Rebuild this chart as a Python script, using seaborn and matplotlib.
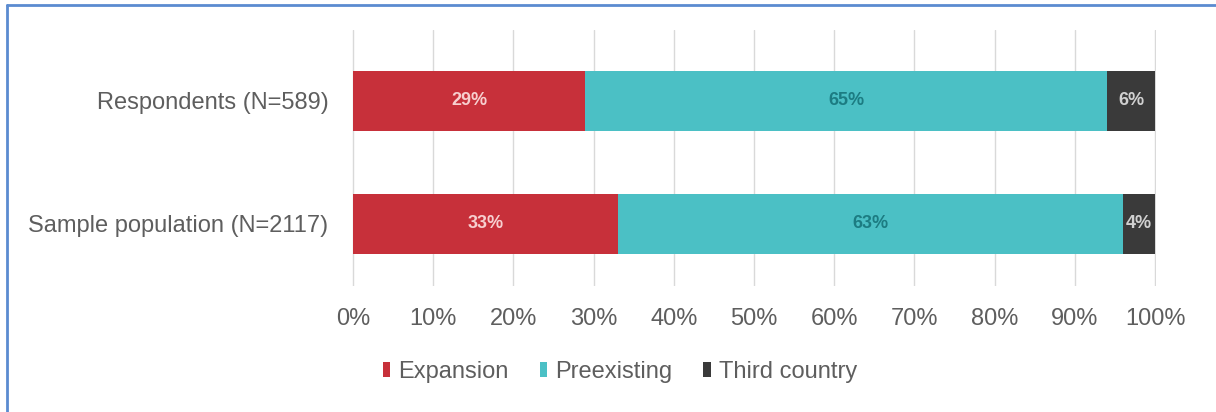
import matplotlib
matplotlib.use('Agg')
import matplotlib.pyplot as plt
from matplotlib.lines import Line2D
from matplotlib.patches import Patch
import numpy as np
import pandas as pd
import seaborn as sns

GROUPS = ['Respondents (N=589)', 'Sample population (N=2117)']
SEGMENTS = ['Expansion', 'Preexisting', 'Third country']
EXPANSION = [29, 33]
PREEXISTING = [65, 63]
THIRD_COUNTRY = [6, 4]

COLORS = {'Expansion': '#C7303A', 'Preexisting': '#4BC0C5', 'Third country': '#3A3A3A'}
LABEL_COLORS = {'Expansion': '#F7CFCF', 'Preexisting': '#1C7C82', 'Third country': '#D0D0D0'}
TEXT_GREY = '#5E5E5E'

sns.set_theme(style='white')
plt.rcParams['font.family'] = ['Liberation Sans', 'DejaVu Sans']

values = pd.DataFrame(
    {'Expansion': EXPANSION, 'Preexisting': PREEXISTING, 'Third country': THIRD_COUNTRY},
    index=GROUPS,
)
cumulative = values.cumsum(axis=1)

fig = plt.figure(figsize=(12.16, 4.12), dpi=100)
ax = fig.add_axes([352 / 1216, 1 - 286 / 412, 804 / 1216, 256 / 412])

# stacked bars: draw the running totals from the longest down
for segment in reversed(SEGMENTS):
    frame = pd.DataFrame({'Group': GROUPS, 'Total': cumulative[segment].values / 100})
    sns.barplot(data=frame, x='Total', y='Group', orient='h', color=COLORS[segment],
                width=0.49, saturation=1, linewidth=0, ax=ax)

for row, group in enumerate(GROUPS):
    start = 0
    for segment in SEGMENTS:
        val = values.loc[group, segment]
        ax.text((start + val / 2) / 100, row, f"{val}%", ha='center', va='center',
                fontsize=13, fontweight='bold', color=LABEL_COLORS[segment])
        start += val

ticks = np.arange(0, 1.01, 0.1)
ax.set_xticks(ticks)
ax.set_xticklabels([f"{int(round(t * 100))}%" for t in ticks])
ax.set_xlim(-0.001, 1.001)
ax.set_ylim(1.504, -0.577)
ax.set_xlabel('')
ax.set_ylabel('')
ax.set_axisbelow(True)
ax.grid(axis='x', color='#D9D9D9', linewidth=1)
ax.grid(axis='y', visible=False)
for spine in ax.spines.values():
    spine.set_visible(False)
ax.tick_params(axis='both', length=0, labelsize=17, labelcolor=TEXT_GREY)
ax.tick_params(axis='x', pad=16)
ax.tick_params(axis='y', pad=17)

handles = [Patch(facecolor=COLORS[s], edgecolor='none', label=s) for s in SEGMENTS]
fig.legend(handles=handles, loc='center', bbox_to_anchor=(620 / 1216, 1 - 372 / 412),
           ncol=3, frameon=False, fontsize=17, handlelength=0.32, handleheight=0.6,
           handletextpad=0.35, columnspacing=1.3, labelcolor=TEXT_GREY)

# blue frame on the top and left edges
border = '#5B8BD0'
fig.add_artist(Line2D([7 / 1216, 1.0], [1 - 5 / 412, 1 - 5 / 412], color=border, lw=2,
                      transform=fig.transFigure))
fig.add_artist(Line2D([7 / 1216, 7 / 1216], [1 - 5 / 412, 0], color=border, lw=2,
                      transform=fig.transFigure))

fig.savefig('out.png', dpi=100)
